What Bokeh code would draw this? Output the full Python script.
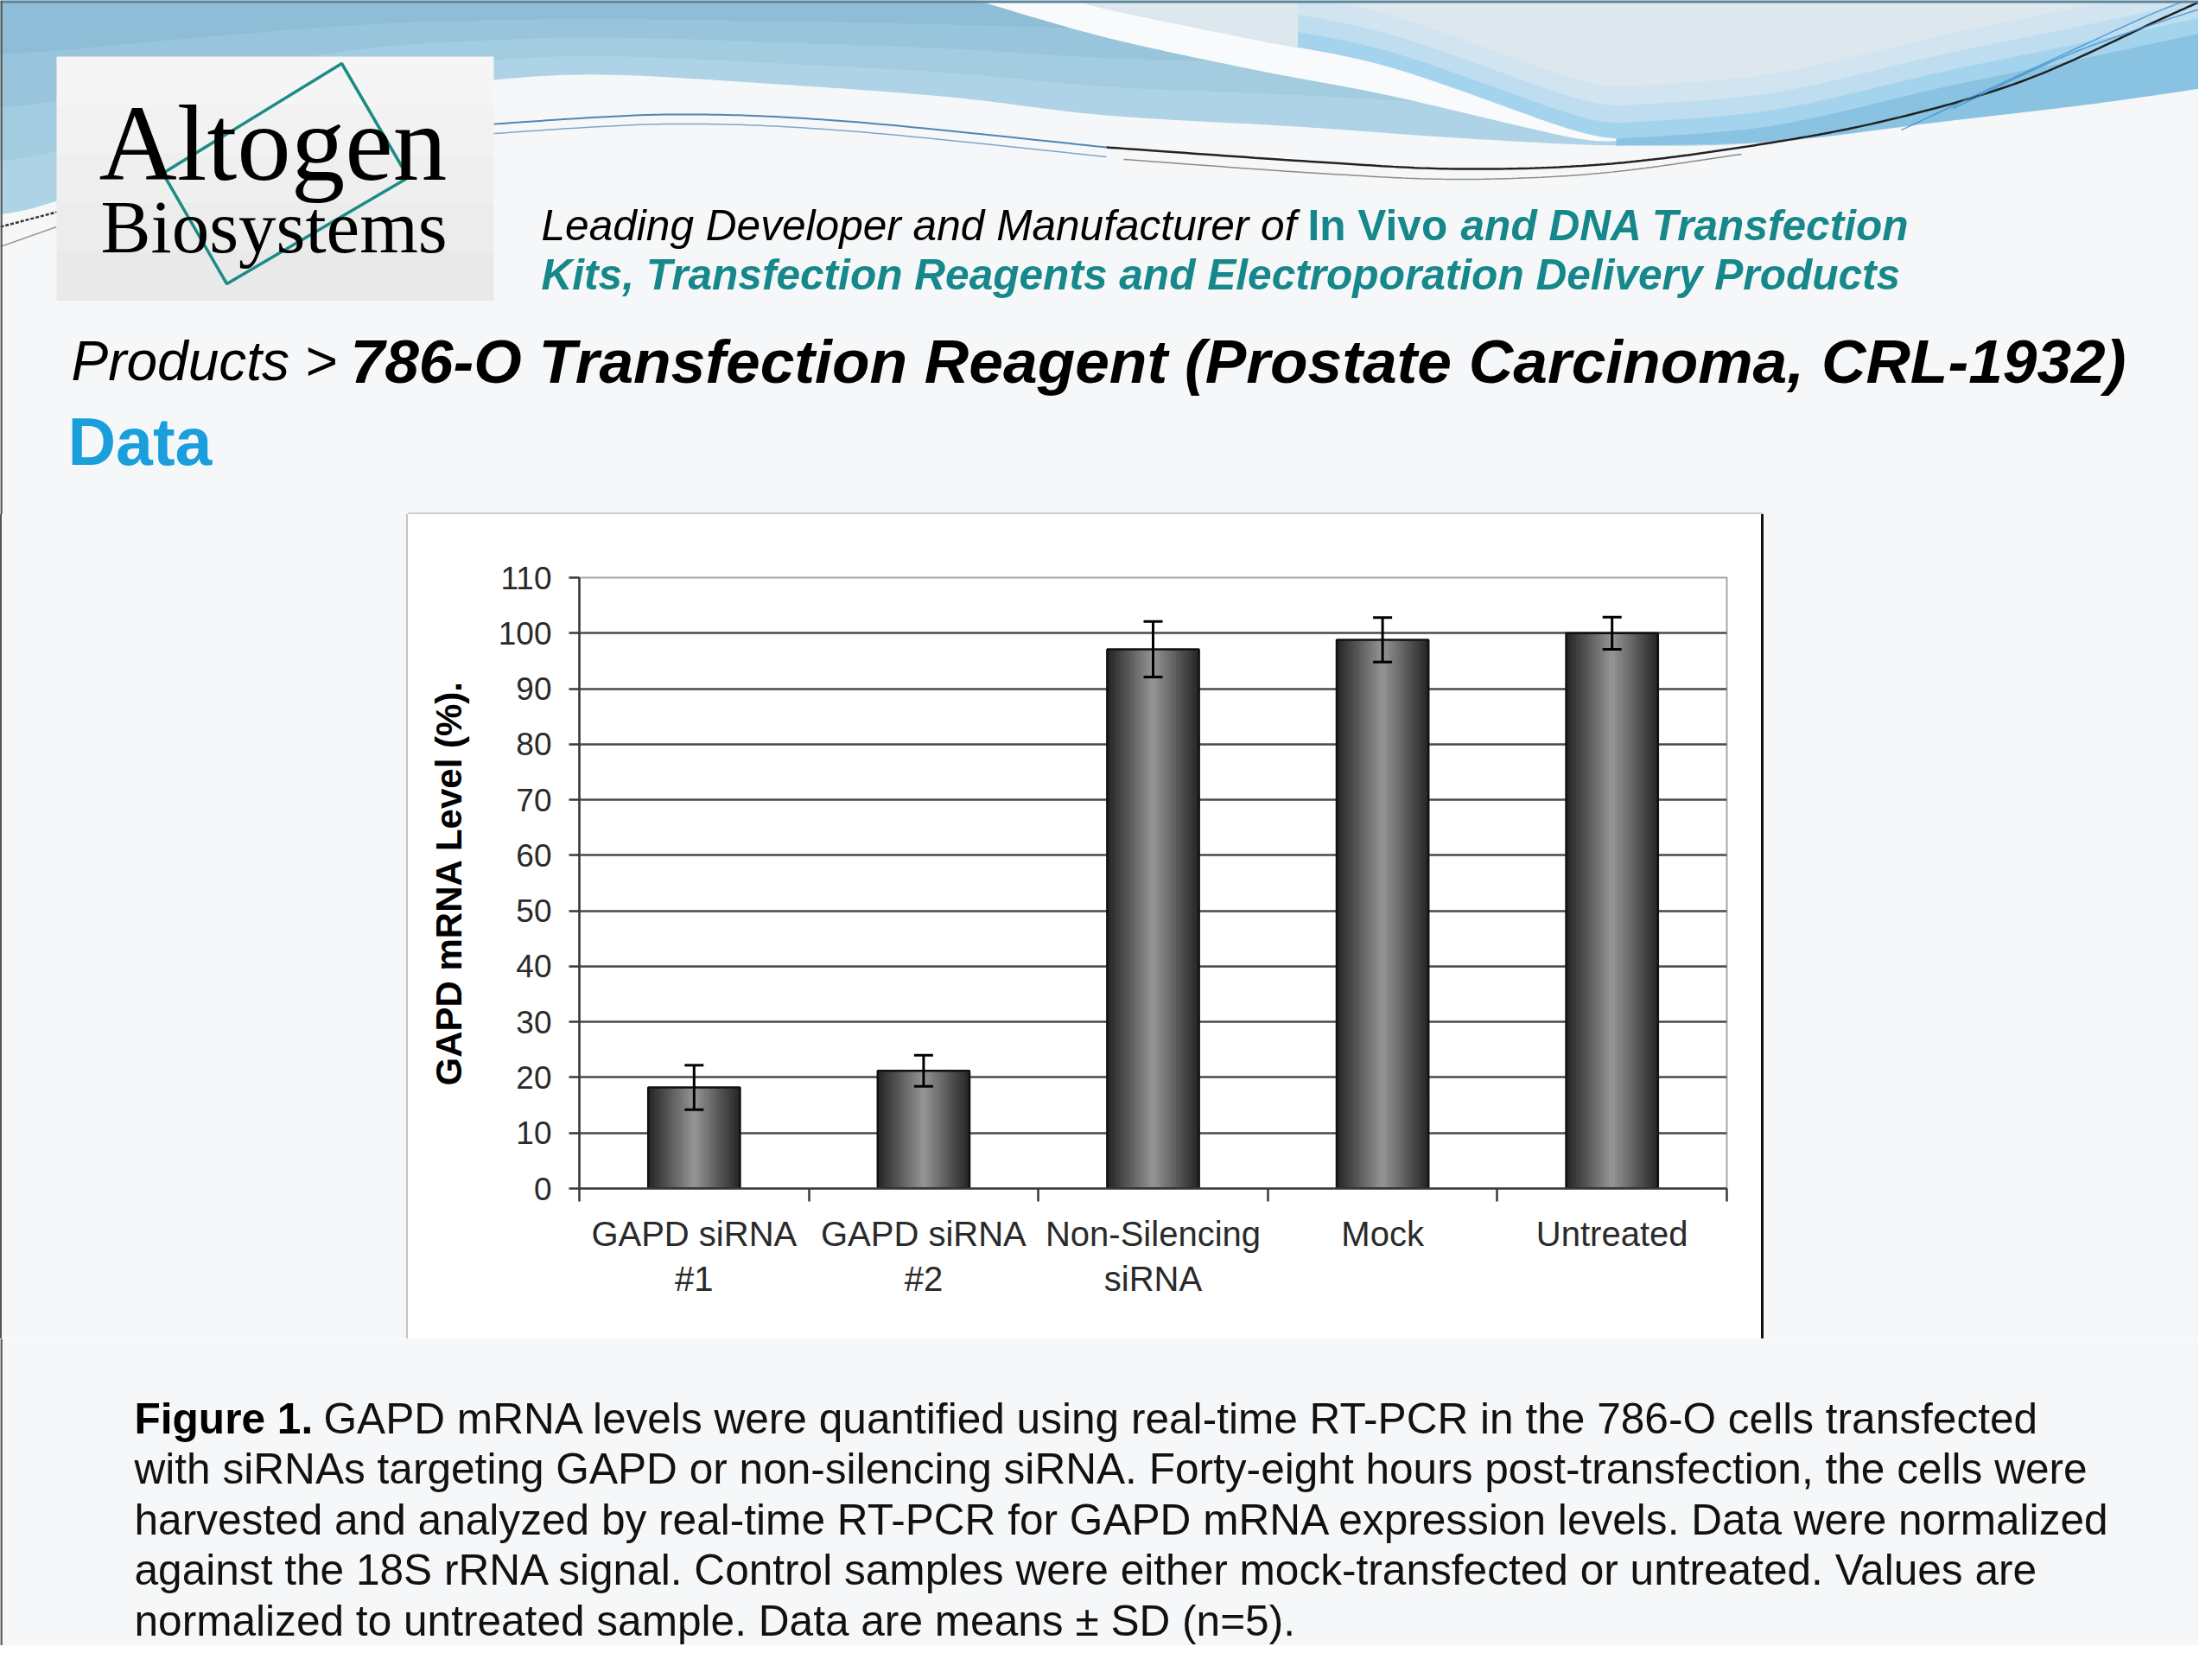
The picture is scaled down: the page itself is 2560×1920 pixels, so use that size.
import numpy as np
from bokeh.plotting import figure
from bokeh.models import ColumnDataSource, Range1d, FixedTicker, Whisker, TeeHead, Div
from bokeh.layouts import column, row
from bokeh.core.properties import value
from bokeh.embed import file_html
from bokeh.resources import INLINE

# ---------------- data ----------------
categories = ["GAPD siRNA\n#1", "GAPD siRNA\n#2", "Non-Silencing\nsiRNA", "Mock", "Untreated"]
mrna_level = [18.2, 21.2, 97.1, 98.8, 100.0]
sd_error = [4.0, 2.8, 5.0, 4.0, 2.9]
y_ticks = [0, 10, 20, 30, 40, 50, 60, 70, 80, 90, 100, 110]
y_axis_title = "GAPD mRNA Level (%)."

logo_line1 = "Altogen"
logo_line2 = "Biosystems"
tag_plain = "Leading Developer and Manufacturer of"
tag_upright = "In Vivo"
tag_italic = "and DNA Transfection"
tag_line2 = "Kits, Transfection Reagents and Electroporation Delivery Products"
title_plain = "Products >"
title_bold = "786-O Transfection Reagent (Prostate Carcinoma, CRL-1932)"
section = "Data"
caption_bold = "Figure 1."
caption_lines = [
    "GAPD mRNA levels were quantified using real-time RT-PCR in the 786-O cells transfected",
    "with siRNAs targeting GAPD or non-silencing siRNA. Forty-eight hours post-transfection, the cells were",
    "harvested and analyzed by real-time RT-PCR for GAPD mRNA expression levels. Data were normalized",
    "against the 18S rRNA signal. Control samples were either mock-transfected or untreated. Values are",
    "normalized to untreated sample. Data are means \u00b1 SD (n=5).",
]

BG = "#f6f7f8"
TEAL = "#16878a"
EDGE = "#555555"
SANS_NAME = "Liberation Sans"
SANS = value(SANS_NAME)
SERIF = value("Liberation Serif")

W_TOTAL, H_TOTAL = 2544, 1904
HDR_H = 595
MID_TOP, MID_BOT = 595, 1549
BOX_L, BOX_R = 472, 2038


def smooth(pts, n=24):
    P = np.array(pts, float)
    P = np.vstack([P[0], P, P[-1]])
    out = []
    t = np.linspace(0, 1, n, endpoint=False)[:, None]
    for i in range(1, len(P) - 2):
        p0, p1, p2, p3 = P[i - 1], P[i], P[i + 1], P[i + 2]
        seg = 0.5 * ((2 * p1) + (-p0 + p2) * t + (2 * p0 - 5 * p1 + 4 * p2 - p3) * t ** 2
                     + (-p0 + 3 * p1 - 3 * p2 + p3) * t ** 3)
        out.append(seg)
    out.append(P[-2][None, :])
    a = np.vstack(out)
    return list(a[:, 0]), list(a[:, 1])


def blank(width, height, xr, yr, fill=BG):
    f = figure(width=width, height=height, x_range=Range1d(*xr), y_range=Range1d(*yr),
               toolbar_location=None, output_backend="svg", min_border=0,
               x_axis_location=None, y_axis_location=None,
               background_fill_color=fill, border_fill_color=fill, outline_line_color=None)
    f.grid.grid_line_color = None
    return f


# ---------------- header ----------------
hdr = blank(W_TOTAL, HDR_H, (0, W_TOTAL), (HDR_H, 0))

bottom_pts = [(2560, 100), (2420, 118), (2250, 140), (2050, 164), (1880, 168), (1700, 160),
              (1500, 146), (1280, 133), (1100, 112), (900, 97), (700, 86), (571, 92),
              (430, 110), (250, 165), (65, 232), (0, 248)]
bx, by = smooth(bottom_pts)
for k, col in enumerate(["#aed3e6", "#a3cce1", "#98c5dc", "#8ebed7"]):
    s = 1 - 0.25 * k
    hdr.patch([0, 2560] + bx, [0, 0] + [y * s for y in by], fill_color=col, line_color=None)

# upper right gray-blue region
up_sw = [(1250, 0), (1280, 10), (1450, 45), (1607, 77), (1810, 147), (1870, 160)]
d_up = [(1870, 160), (2050, 145), (2250, 100), (2420, 65), (2560, 35)]
cx1, cy1 = smooth(up_sw)
cx2, cy2 = smooth(d_up)
hdr.patch(cx1 + cx2 + [2560], cy1 + cy2 + [0], fill_color="#dde7ee", line_color=None)
for off, col in [(60, "#d0e4ef"), (38, "#b9dcef"), (18, "#9dd1ec")]:
    xs_ = [x for x in cx1 if x > 1500] + cx2
    ys_ = [y for x, y in zip(cx1, cy1) if x > 1500] + cy2
    hdr.patch(xs_ + xs_[::-1], ys_ + [max(y - off, 0) for y in ys_[::-1]],
              fill_color=col, line_color=None, fill_alpha=0.8)

# white swoosh
lo_sw = [(1130, 0), (1280, 43), (1450, 80), (1607, 110), (1810, 157), (1870, 163)]
lx, ly = smooth(lo_sw)
hdr.patch(lx + cx1[::-1], ly + cy1[::-1], fill_color="#f8fafb", line_color=None)

# right saturated band
d_lo = [(2560, 100), (2420, 120), (2250, 140), (2050, 163), (1870, 168)]
dx, dy = smooth(d_lo)
hdr.patch(cx2 + dx, cy2 + dy, fill_color="#8ac3e1", line_color=None)

# thin lines
x1, y1 = smooth([(571, 143), (776, 132), (980, 140), (1280, 170)])
hdr.line(x1, y1, line_color="#4f86b8", line_width=2)
hdr.line(x1, [y + 11 for y in y1], line_color="#7ea7cc", line_width=1.5)
x2, y2 = smooth([(1280, 170), (1525, 187), (1688, 195), (1851, 190), (2015, 170),
                 (2178, 140), (2341, 93), (2504, 20), (2560, -5)])
hdr.line(x2, y2, line_color="#222222", line_width=2.5)
x3, y3 = smooth([(1300, 184), (1525, 200), (1688, 207), (1851, 200), (2015, 178)])
hdr.line(x3, y3, line_color="#8a8a8a", line_width=1.5)
for pts in ([(2200, 150), (2350, 80), (2480, 20), (2530, 0)],
            [(2260, 125), (2400, 60), (2560, 5)]):
    tx, ty = smooth(pts)
    hdr.line(tx, ty, line_color="#3f8fd0", line_width=1.5, line_alpha=0.8)
hdr.line([0, 65], [262, 245], line_color="#333333", line_width=2.5, line_dash="4 2")
hdr.line([0, 65], [285, 262], line_color="#9a9a9a", line_width=1.5)

# slide border (top / left)
hdr.line([0, W_TOTAL], [1.5, 1.5], line_color="#5f8498", line_width=3)
hdr.line([1, 1], [0, HDR_H], line_color=EDGE, line_width=2.5)

# logo box
bands = ["#f5f5f5", "#f2f2f2", "#efefef", "#ececec", "#e9e9e9"]
h = (347 - 65) / len(bands)
for i, col in enumerate(bands):
    hdr.quad(left=65, right=571, top=65 + i * h, bottom=65 + (i + 1) * h + 0.5,
             fill_color=col, line_color=None)
hdr.patch([395, 472, 262, 188], [73, 205, 328, 200], fill_color=None,
          line_color="#1b8c84", line_width=3.5)
hdr.text(x=[114], y=[165], text=[logo_line1], text_font=SERIF, text_font_size="125px",
         text_baseline="middle", text_color="black")
hdr.text(x=[116], y=[262], text=[logo_line2], text_font=SERIF, text_font_size="87px",
         text_baseline="middle", text_color="black")

# tagline
TAG_FS = "49.6px"
hdr.text(x=[626], y=[260], text=[tag_plain], text_font=SANS, text_font_size=TAG_FS,
         text_font_style="italic", text_baseline="middle", text_color="black")
hdr.text(x=[1513], y=[260], text=[tag_upright], text_font=SANS, text_font_size=TAG_FS,
         text_font_style="bold", text_baseline="middle", text_color=TEAL)
hdr.text(x=[1690], y=[260], text=[tag_italic], text_font=SANS, text_font_size=TAG_FS,
         text_font_style="bold italic", text_baseline="middle", text_color=TEAL)
hdr.text(x=[626], y=[317], text=[tag_line2], text_font=SANS, text_font_size=TAG_FS,
         text_font_style="bold italic", text_baseline="middle", text_color=TEAL)

# titles
hdr.text(x=[82], y=[417], text=[title_plain], text_font=SANS, text_font_size="64px",
         text_font_style="italic", text_baseline="middle", text_color="black")
hdr.text(x=[405], y=[417], text=[title_bold], text_font=SANS, text_font_size="71.3px",
         text_font_style="bold italic", text_baseline="middle", text_color="black")
hdr.text(x=[78], y=[510], text=[section], text_font=SANS, text_font_size="77px",
         text_font_style="bold", text_baseline="middle", text_color="#1a9fdc")

# chart frame top border
hdr.line([BOX_L, BOX_R + 2], [HDR_H - 1, HDR_H - 1], line_color="#c8c8c8", line_width=2.5)

# ---------------- chart ----------------
xs = [i + 0.5 for i in range(len(categories))]
src = ColumnDataSource(dict(
    x=xs, top=mrna_level,
    upper=[v + e for v, e in zip(mrna_level, sd_error)],
    lower=[v - e for v, e in zip(mrna_level, sd_error)],
))

chart = figure(width=BOX_R - BOX_L, height=MID_BOT - MID_TOP, x_range=Range1d(0, len(categories)),
               y_range=Range1d(y_ticks[0], y_ticks[-1]),
               toolbar_location=None, output_backend="svg",
               min_border_left=198, min_border_right=40, min_border_top=73, min_border_bottom=174,
               background_fill_color="white", border_fill_color="white")

N = 14
c0, c1 = np.array([40, 40, 40]), np.array([146, 146, 146])
for k in range(N):
    t = k / (N - 1)
    c = (c0 + (c1 - c0) * t).astype(int)
    chart.vbar(x="x", top="top", bottom=0, width=0.4 * (1 - k / N), source=src,
               fill_color="#%02x%02x%02x" % tuple(c), line_color=None)
chart.vbar(x="x", top="top", bottom=0, width=0.4, source=src, fill_color=None,
           line_color="#111111", line_width=2.5)

chart.add_layout(Whisker(source=src, base="x", upper="upper", lower="lower", level="overlay",
                         line_color="black", line_width=3,
                         upper_head=TeeHead(size=22, line_color="black", line_width=3),
                         lower_head=TeeHead(size=22, line_color="black", line_width=3)))

AX = "#3a3a3a"
xa = chart.xaxis[0]
xa.ticker = FixedTicker(ticks=xs, minor_ticks=list(range(len(categories) + 1)))
xa.major_label_overrides = {x: c for x, c in zip(xs, categories)}
xa.major_tick_line_color = None
xa.major_tick_out = 0
xa.major_tick_in = 0
xa.minor_tick_out = 15
xa.minor_tick_in = 0
xa.minor_tick_line_color = AX
xa.minor_tick_line_width = 2.5
xa.axis_line_color = AX
xa.axis_line_width = 2.5
xa.major_label_text_font = SANS_NAME
xa.major_label_text_font_size = "40px"
xa.major_label_text_color = "#2a2a2a"
xa.major_label_standoff = 15

ya = chart.yaxis[0]
ya.ticker = FixedTicker(ticks=y_ticks)
ya.major_tick_out = 12
ya.major_tick_in = 0
ya.major_tick_line_color = AX
ya.major_tick_line_width = 2.5
ya.axis_line_color = AX
ya.axis_line_width = 2.5
ya.major_label_text_font = SANS_NAME
ya.major_label_text_font_size = "37px"
ya.major_label_text_color = "#2a2a2a"
ya.major_label_standoff = 20
ya.axis_label = y_axis_title
ya.axis_label_text_font = SANS_NAME
ya.axis_label_text_font_size = "42px"
ya.axis_label_text_font_style = "bold"
ya.axis_label_text_color = "black"
ya.axis_label_standoff = 31

chart.xgrid.visible = False
chart.ygrid.ticker = FixedTicker(ticks=y_ticks[1:-1])
chart.ygrid.grid_line_color = "#4a4a4a"
chart.ygrid.grid_line_width = 2.5
chart.outline_line_color = "#a8a8a8"
chart.outline_line_width = 2

# side panels (plain boxes carrying the frame's left/right border)
mid_h = MID_BOT - MID_TOP
left = Div(text="", width=BOX_L, height=mid_h, margin=0,
           styles={"background-color": BG, "width": f"{BOX_L}px", "height": f"{mid_h}px",
                   "box-shadow": f"inset -2px 0 0 #c4c4c4, inset 2px 0 0 {EDGE}"})
right_w = W_TOTAL - BOX_R
right = Div(text="", width=right_w, height=mid_h, margin=0,
            styles={"background-color": BG, "width": f"{right_w}px", "height": f"{mid_h}px",
                    "box-shadow": "inset 3px 0 0 #111111"})

# ---------------- caption ----------------
cap_h = H_TOTAL - MID_BOT
cap = blank(W_TOTAL, cap_h, (0, W_TOTAL), (H_TOTAL, MID_BOT))
cap.line([1, 1], [MID_BOT, H_TOTAL], line_color=EDGE, line_width=2.5)
line_y = [1641, 1699.5, 1758, 1816.5, 1875]
CAP_FS = "49.6px"
cap.text(x=[155], y=[line_y[0]], text=[caption_bold], text_font=SANS, text_font_size=CAP_FS,
         text_font_style="bold", text_baseline="middle", text_color="black")
cap.text(x=[374] + [155] * 4, y=line_y, text=caption_lines, text_font=SANS,
         text_font_size=CAP_FS, text_baseline="middle", text_color="#111111")

layout = column(hdr, row(left, chart, right, spacing=0), cap, spacing=0)
open("out.html", "w").write(file_html(layout, INLINE))
